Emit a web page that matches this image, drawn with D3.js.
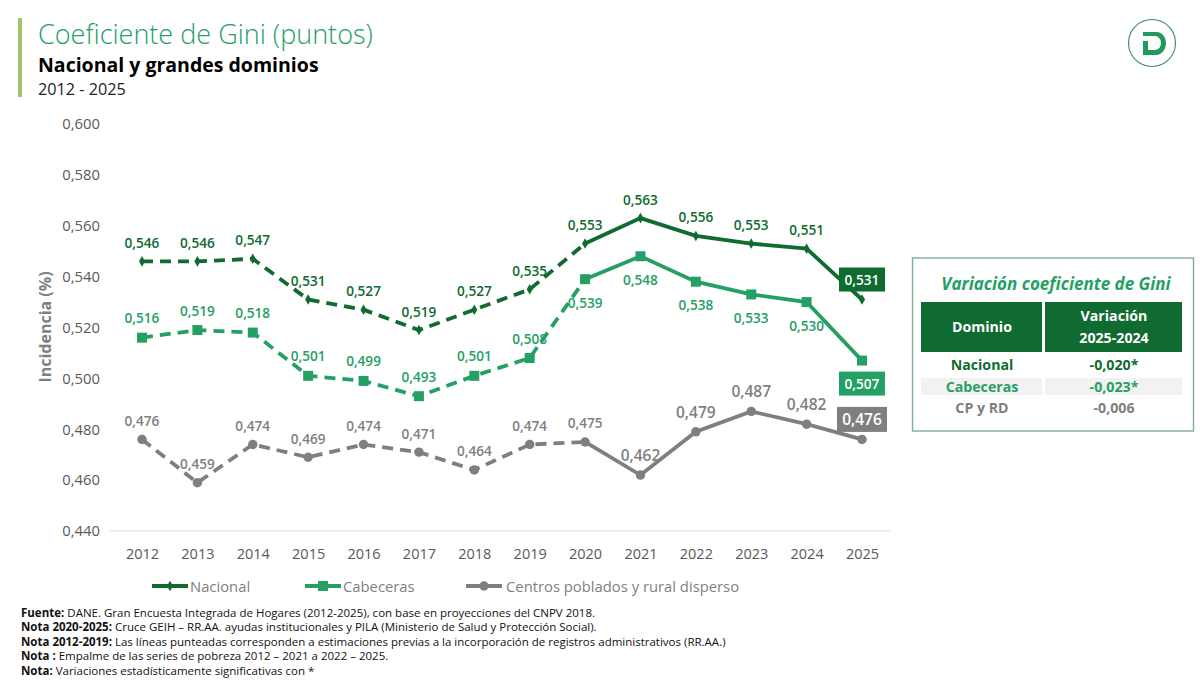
<!DOCTYPE html>
<html>
<head>
<meta charset="utf-8">
<script src="https://cdn.jsdelivr.net/npm/d3@7/dist/d3.min.js"></script>
<style>
  html, body { margin: 0; padding: 0; background: #fff; }
  svg { display: block; }
  text { font-family: "Open Sans", sans-serif; }
</style>
</head>
<body>
<svg id="chart" width="1200" height="681"></svg>
<script>
// BEGIN data
var years = [2012, 2013, 2014, 2015, 2016, 2017, 2018, 2019, 2020, 2021, 2022, 2023, 2024, 2025];
var nacional = [0.546, 0.546, 0.547, 0.531, 0.527, 0.519, 0.527, 0.535, 0.553, 0.563, 0.556, 0.553, 0.551, 0.531];
var cabeceras = [0.516, 0.519, 0.518, 0.501, 0.499, 0.493, 0.501, 0.508, 0.539, 0.548, 0.538, 0.533, 0.530, 0.507];
var centros = [0.476, 0.459, 0.474, 0.469, 0.474, 0.471, 0.464, 0.474, 0.475, 0.462, 0.479, 0.487, 0.482, 0.476];
var yTicks = [0.44, 0.46, 0.48, 0.50, 0.52, 0.54, 0.56, 0.58, 0.60];
var lastDashedYear = 2020;
var tableHeader = ["Dominio", "Variación", "2025-2024"];
var tableDomains = ["Nacional", "Cabeceras", "CP y RD"];
var tableValues = ["-0,020*", "-0,023*", "-0,006"];
var footnotes = [
  ["Fuente:", " DANE. Gran Encuesta Integrada de Hogares (2012-2025), con base en proyecciones del CNPV 2018."],
  ["Nota 2020-2025:", " Cruce GEIH – RR.AA. ayudas institucionales y PILA (Ministerio de Salud y Protección Social)."],
  ["Nota 2012-2019:", " Las líneas punteadas corresponden a estimaciones previas a la incorporación de registros administrativos (RR.AA.)"],
  ["Nota :", " Empalme  de las series de pobreza 2012 – 2021 a 2022 – 2025."],
  ["Nota:", " Variaciones estadísticamente significativas con *"]
];
// END data

var DARK = "#0f6b2f", GREEN = "#25a064", GRAY = "#7f7f7f";
var svg = d3.select("#chart");
var fmt = d3.formatLocale({ decimal: ",", thousands: ".", grouping: [3], currency: ["", ""] }).format(".3f");

var x = d3.scalePoint().domain(years).range([142, 862]);
var y = d3.scaleLinear().domain([0.44, 0.60]).range([531, 124]);

// series config, label offset is from the point to the label centre
var series = [
  { name: "Nacional", values: nacional, color: DARK, symbol: d3.symbolDiamond, size: 32,
    labelDy: function () { return -19; }, fontSize: function () { return 13.6; } },
  { name: "Cabeceras", values: cabeceras, color: GREEN, symbol: d3.symbolSquare, size: 100,
    labelDy: function (yr) { return yr >= 2020 ? 23 : -20; }, fontSize: function () { return 13.6; } },
  { name: "Centros poblados y rural disperso", values: centros, color: GRAY, symbol: d3.symbolCircle, size: 70,
    labelDy: function (yr) { return yr >= 2021 ? -20 : -19; }, fontSize: function (yr) { return yr >= 2021 ? 15.5 : 13.6; } }
];

// header
svg.append("rect").attr("x", 18).attr("y", 18).attr("width", 4).attr("height", 79).attr("fill", "#a4c46c");
svg.append("text").attr("x", 38).attr("y", 43.5).attr("font-size", 27).attr("font-weight", 300).attr("fill", GREEN).text("Coeficiente de Gini (puntos)");
svg.append("text").attr("x", 38).attr("y", 72).attr("font-size", 19.5).attr("font-weight", 700).attr("fill", "#000").text("Nacional y grandes dominios");
svg.append("text").attr("x", 38).attr("y", 95).attr("font-size", 16.2).attr("fill", "#222").text("2012 - 2025");

// logo
var logo = svg.append("g").attr("transform", "translate(1152,43)");
logo.append("circle").attr("r", 23.5).attr("fill", "none").attr("stroke", "#3f8a63").attr("stroke-width", 1.1);
logo.append("path").attr("fill", "#1f9a5c").attr("fill-rule", "evenodd")
  .attr("d", "M-9,-11 L4,-11 C11,-11 14,-5 14,0 C14,6 10,12 4,12 L-9,12 L-9,-2 L-4,-2 L-4,7 L3,7 C7,7 9,3 9,0 C9,-3 7,-7 3,-7 L-9,-7 Z");

// axes
var yAxis = d3.axisLeft(y).tickValues(yTicks).tickFormat(fmt).tickSize(0).tickPadding(0);
var gy = svg.append("g").attr("transform", "translate(100,0)").call(yAxis);
gy.select(".domain").remove();
gy.selectAll("text").attr("font-size", 14.8).attr("fill", "#595959").style("font-family", "'Open Sans', sans-serif");

var xAxis = d3.axisBottom(x).tickSize(0).tickPadding(0).tickFormat(d3.format("d"));
var gx = svg.append("g").attr("transform", "translate(0,531)").call(xAxis);
gx.select(".domain").remove();
gx.selectAll("text").attr("dy", 0).attr("y", 28).attr("font-size", 14.5).attr("fill", "#595959").style("font-family", "'Open Sans', sans-serif");
svg.append("line").attr("x1", 110).attr("x2", 890).attr("y1", y(0.44)).attr("y2", y(0.44)).attr("stroke", "#d9d9d9").attr("stroke-width", 1.2);

svg.append("text").attr("transform", "translate(51,327) rotate(-90)").attr("text-anchor", "middle")
  .attr("font-size", 16).attr("font-weight", 700).attr("fill", GRAY).text("Incidencia (%)");

// lines, dashed until lastDashedYear then solid
var line = d3.line().x(function (d) { return x(d.year); }).y(function (d) { return y(d.value); });

series.forEach(function (s) {
  var pts = years.map(function (yr, i) { return { year: yr, value: s.values[i] }; });
  var g = svg.append("g");
  g.append("path").datum(pts.filter(function (d) { return d.year <= lastDashedYear; }))
    .attr("d", line).attr("fill", "none").attr("stroke", s.color).attr("stroke-width", 3.8)
    .attr("stroke-dasharray", "11 7");
  g.append("path").datum(pts.filter(function (d) { return d.year >= lastDashedYear; }))
    .attr("d", line).attr("fill", "none").attr("stroke", s.color).attr("stroke-width", 3.8);
  g.selectAll("path.mark").data(pts).enter().append("path").attr("class", "mark")
    .attr("transform", function (d) { return "translate(" + x(d.year) + "," + y(d.value) + ")"; })
    .attr("d", d3.symbol().type(s.symbol).size(s.size)).attr("fill", s.color);
});

// data labels, last year goes in a box
series.forEach(function (s) {
  var g = svg.append("g");
  years.forEach(function (yr, i) {
    if (yr === 2025) return;
    g.append("text").attr("x", x(yr)).attr("y", y(s.values[i]) + s.labelDy(yr))
      .attr("text-anchor", "middle").attr("dominant-baseline", "central")
      .attr("font-size", s.fontSize(yr)).attr("font-weight", 600).attr("fill", s.color).text(fmt(s.values[i]));
  });
});

var endBoxes = [
  { values: nacional, color: DARK, dy: -20, w: 46, h: 24, fs: 13.6 },
  { values: cabeceras, color: GREEN, dy: 23, w: 46, h: 24, fs: 13.6 },
  { values: centros, color: GRAY, dy: -20, w: 50, h: 25, fs: 15.5 }
];
endBoxes.forEach(function (b) {
  var v = b.values[b.values.length - 1], cy = y(v) + b.dy;
  svg.append("rect").attr("x", x(2025) - b.w / 2).attr("y", cy - b.h / 2).attr("width", b.w).attr("height", b.h).attr("fill", b.color);
  svg.append("text").attr("x", x(2025)).attr("y", cy).attr("text-anchor", "middle").attr("dominant-baseline", "central")
    .attr("font-size", b.fs).attr("font-weight", 600).attr("fill", "#fff").text(fmt(v));
});

// legend
var legendX = [152, 305, 466];
series.forEach(function (s, i) {
  var g = svg.append("g").attr("transform", "translate(" + legendX[i] + ",586)");
  g.append("line").attr("x1", 0).attr("x2", 36).attr("stroke", s.color).attr("stroke-width", 3.8);
  g.append("path").attr("transform", "translate(18,0)").attr("d", d3.symbol().type(s.symbol).size(s.size)).attr("fill", s.color);
  g.append("text").attr("x", i === 2 ? 40 : 38).attr("dominant-baseline", "central").attr("font-size", 14.8).attr("fill", GRAY).text(s.name);
});

// variation table
var t = svg.append("g");
t.append("rect").attr("x", 912.5).attr("y", 258).attr("width", 281).attr("height", 173).attr("fill", "#fff").attr("stroke", "#7fae97").attr("stroke-width", 1.4);
t.append("text").attr("x", 1056).attr("y", 290).attr("text-anchor", "middle").attr("font-size", 17).attr("font-weight", 700).attr("font-style", "italic").attr("fill", GREEN).text("Variación coeficiente de Gini");
t.append("rect").attr("x", 921).attr("y", 302).attr("width", 121).attr("height", 50).attr("fill", DARK);
t.append("rect").attr("x", 1045).attr("y", 302).attr("width", 137).attr("height", 50).attr("fill", DARK);
t.append("rect").attr("x", 921).attr("y", 378).attr("width", 121).attr("height", 17).attr("fill", "#f2f2f2");
t.append("rect").attr("x", 1045).attr("y", 378).attr("width", 137).attr("height", 17).attr("fill", "#f2f2f2");
function cell(tx, ty, str, fill) {
  t.append("text").attr("x", tx).attr("y", ty).attr("text-anchor", "middle").attr("dominant-baseline", "central")
    .attr("font-size", 14.2).attr("font-weight", 700).attr("fill", fill).text(str);
}
cell(982, 326.5, tableHeader[0], "#fff");
cell(1114, 315.5, tableHeader[1], "#fff");
cell(1114, 337.5, tableHeader[2], "#fff");
var rowY = [364.5, 386.5, 407.5], rowColor = [DARK, GREEN, GRAY];
tableDomains.forEach(function (d, i) {
  cell(982, rowY[i], d, rowColor[i]);
  cell(1114, rowY[i], tableValues[i], rowColor[i]);
});

// footnotes
var footY = [612, 626, 641, 655, 670];
footnotes.forEach(function (f, i) {
  var tx = svg.append("text").attr("x", 21).attr("y", footY[i]).attr("dominant-baseline", "central").attr("font-size", 11.5).attr("fill", "#111");
  tx.append("tspan").attr("font-weight", 700).text(f[0]);
  tx.append("tspan").text(f[1]);
});
</script>
</body>
</html>
